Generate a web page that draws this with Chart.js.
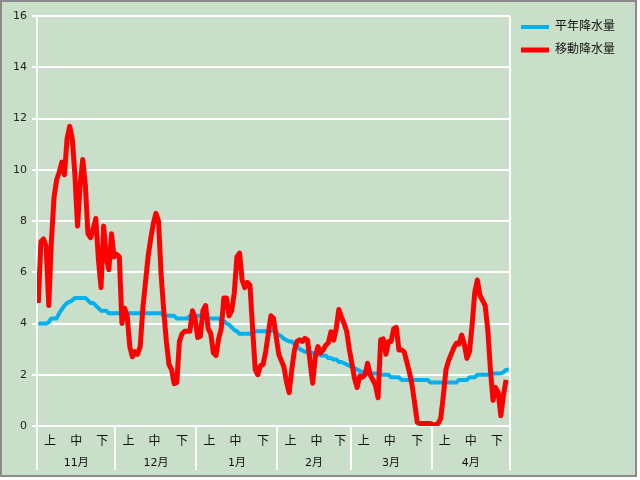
<!DOCTYPE html>
<html><head><meta charset="utf-8">
<script src="https://cdn.jsdelivr.net/npm/chart.js@4.4.1/dist/chart.umd.min.js"></script>
<style>html,body{margin:0;padding:0;background:#fff;}canvas{display:block;}</style>
</head><body>
<canvas id="c" width="640" height="480"></canvas>
<script>
const months = ['11月','12月','1月','2月','3月','4月'];
const monthDays = [30,31,31,28,31,30];
const dekads = ['上','中','下'];
const seriesNames = ['平年降水量','移動降水量'];
const yTicks = [0,2,4,6,8,10,12,14,16];

const normal = [
 4.0,4.0,4.0,4.0,4.05,4.2,4.2,4.2,4.4,4.55,
 4.7,4.8,4.85,4.9,5.0,5.0,5.0,5.0,5.0,4.9,
 4.8,4.8,4.7,4.6,4.5,4.5,4.5,4.4,4.4,4.4,
 4.4,4.4,4.4,4.4,4.4,4.4,4.4,4.4,4.4,4.4,
 4.4,4.4,4.4,4.4,4.4,4.4,4.4,4.4,4.3,4.3,
 4.3,4.3,4.3,4.2,4.2,4.2,4.2,4.2,4.3,4.3,
 4.3,4.3,4.3,4.3,4.3,4.2,4.2,4.2,4.2,4.2,
 4.1,4.1,4.0,3.95,3.85,3.75,3.7,3.6,3.6,3.6,
 3.6,3.6,3.6,3.7,3.7,3.7,3.7,3.7,3.7,3.7,
 3.75,3.65,3.55,3.5,3.4,3.35,3.3,3.3,3.2,3.1,
 3.0,2.95,2.9,2.9,2.9,2.85,2.8,2.8,2.75,2.75,
 2.75,2.65,2.65,2.6,2.6,2.5,2.5,2.45,2.4,2.35,
 2.3,2.25,2.2,2.15,2.1,2.1,2.1,2.05,2.05,2.05,
 2.05,2.0,2.0,2.0,2.0,1.9,1.9,1.9,1.9,1.8,
 1.8,1.8,1.8,1.8,1.8,1.8,1.8,1.8,1.8,1.8,
 1.7,1.7,1.7,1.7,1.7,1.7,1.7,1.7,1.7,1.7,
 1.7,1.8,1.8,1.8,1.8,1.9,1.9,1.9,2.0,2.0,
 2.0,2.0,2.0,2.05,2.05,2.05,2.05,2.05,2.1,2.2,
 2.2];

const moving = [
 4.8,7.2,7.3,7.0,4.7,7.2,8.9,9.6,9.9,10.3,
 9.8,11.2,11.7,11.2,9.8,7.8,9.4,10.4,9.4,7.5,
 7.35,7.7,8.1,6.5,5.4,7.8,6.6,6.1,7.5,6.6,
 6.7,6.6,4.0,4.6,4.3,3.1,2.7,2.9,2.8,3.1,
 4.6,5.6,6.6,7.3,7.9,8.3,8.0,5.9,4.5,3.3,
 2.4,2.2,1.65,1.7,3.3,3.6,3.7,3.7,3.7,4.5,
 4.2,3.45,3.5,4.5,4.7,3.8,3.6,2.85,2.75,3.4,
 3.8,5.0,5.0,4.3,4.5,5.2,6.6,6.75,5.7,5.4,
 5.6,5.5,3.8,2.2,2.0,2.35,2.4,2.9,3.6,4.3,
 4.2,3.5,2.8,2.55,2.3,1.7,1.3,2.2,2.95,3.3,
 3.36,3.3,3.42,3.36,2.5,1.67,2.7,3.1,2.85,2.97,
 3.15,3.25,3.68,3.35,3.8,4.55,4.25,4.0,3.7,3.0,
 2.45,1.85,1.5,1.95,1.9,2.0,2.45,2.0,1.8,1.6,
 1.1,3.36,3.4,2.8,3.3,3.3,3.8,3.85,2.97,2.97,
 2.9,2.5,2.1,1.6,0.9,0.15,0.1,0.1,0.1,0.1,
 0.1,0.05,0.05,0.1,0.3,1.2,2.2,2.55,2.8,3.05,
 3.23,3.2,3.55,3.2,2.64,2.9,3.94,5.2,5.7,5.1,
 4.9,4.7,3.75,2.2,1.0,1.5,1.3,0.4,1.2,1.8,
 null];

const BG = '#C9DFC9';
const FONT = "'DejaVu Sans','Noto Sans CJK JP',sans-serif";

// derived positions on the day axis
const starts = [];
let acc = 0;
monthDays.forEach(d => { starts.push(acc); acc += d; });
const totalDays = acc;
const dekadTicks = [], dekadLabels = [];
const monthTicks = [], monthLabels = [];
const bounds = [];
starts.forEach((s, m) => {
  const len = monthDays[m];
  dekadTicks.push(s + 4.5, s + 14.5, s + 20 + (len - 20) / 2 - 0.5);
  dekadLabels.push(...dekads);
  monthTicks.push(s + len / 2 - 0.5);
  monthLabels.push(months[m]);
  bounds.push(s - 0.5);
});
bounds.push(totalDays - 0.5);

const toXY = arr => arr.map((v, i) => ({x: i, y: v}));

const framePlugin = {
  id: 'frame',
  beforeDraw(chart) {
    const ctx = chart.ctx;
    ctx.save();
    ctx.fillStyle = '#ffffff';
    ctx.fillRect(0, 0, chart.width, chart.height);
    ctx.fillStyle = BG;
    ctx.fillRect(0, 0, 637, 477);
    ctx.strokeStyle = '#8a8a8a';
    ctx.lineWidth = 2;
    ctx.strokeRect(1, 1, 635, 475);
    ctx.restore();
  },
  beforeDatasetsDraw(chart) {
    const ctx = chart.ctx, xs = chart.scales.x, ca = chart.chartArea;
    const bottom = chart.scales.xm.bottom;
    ctx.save();
    ctx.strokeStyle = '#ffffff';
    ctx.lineWidth = 2;
    bounds.forEach((b, k) => {
      const px = Math.round(xs.getPixelForValue(b));
      const top = (k === 0 || k === bounds.length - 1) ? ca.top : ca.bottom;
      ctx.beginPath();
      ctx.moveTo(px, top);
      ctx.lineTo(px, bottom);
      ctx.stroke();
    });
    ctx.restore();
  }
};

new Chart(document.getElementById('c'), {
  type: 'line',
  data: {
    datasets: [
      {label: seriesNames[0], data: toXY(normal), borderColor: '#00B0F0', backgroundColor: '#00B0F0', borderWidth: 4, pointRadius: 0, tension: 0, borderJoinStyle: 'round', order: 2},
      {label: seriesNames[1], data: toXY(moving), borderColor: '#FF0000', backgroundColor: '#FF0000', borderWidth: 5, pointRadius: 0, tension: 0, borderJoinStyle: 'round', spanGaps: false, order: 1}
    ]
  },
  options: {
    responsive: false,
    animation: false,
    layout: {padding: {top: 10, left: 0, right: 15, bottom: 10}},
    plugins: {
      title: {display: true, text: '', font: {size: 5, lineHeight: 1.2}, padding: 0},
      legend: {
        position: 'right', align: 'start',
        labels: {
          usePointStyle: true, pointStyle: 'line', pointStyleWidth: 28, boxWidth: 28, boxHeight: 4,
          padding: 11, color: '#111', font: {family: FONT, size: 12},
          sort: (a, b) => a.datasetIndex - b.datasetIndex
        }
      },
      tooltip: {enabled: false}
    },
    scales: {
      x: {
        type: 'linear', position: 'bottom', min: -0.5, max: totalDays - 0.5, weight: 0,
        afterBuildTicks: s => { s.ticks = dekadTicks.map(v => ({value: v})); },
        afterFit: s => { s.height = 24; },
        ticks: {autoSkip: false, maxRotation: 0, padding: 9, color: '#111', font: {family: FONT, size: 12},
          callback: (v, i) => dekadLabels[i]},
        grid: {display: false, drawTicks: false},
        border: {display: false}
      },
      xm: {
        type: 'linear', position: 'bottom', min: -0.5, max: totalDays - 0.5, weight: 1,
        afterBuildTicks: s => { s.ticks = monthTicks.map(v => ({value: v})); },
        afterFit: s => { s.height = 20; },
        ticks: {autoSkip: false, maxRotation: 0, padding: 7, color: '#111', font: {family: FONT, size: 11},
          callback: (v, i) => monthLabels[i]},
        grid: {display: false, drawTicks: false},
        border: {display: false}
      },
      y: {
        min: 0, max: 16,
        afterBuildTicks: s => { s.ticks = yTicks.map(v => ({value: v})); },
        afterFit: s => { s.width = 37; },
        ticks: {padding: 5, color: '#222', font: {family: FONT, size: 11}},
        grid: {color: '#ffffff', lineWidth: 2, tickLength: 5, tickColor: '#ffffff'},
        border: {display: true, color: '#ffffff', width: 2}
      }
    }
  },
  plugins: [framePlugin]
});
</script>
</body></html>
